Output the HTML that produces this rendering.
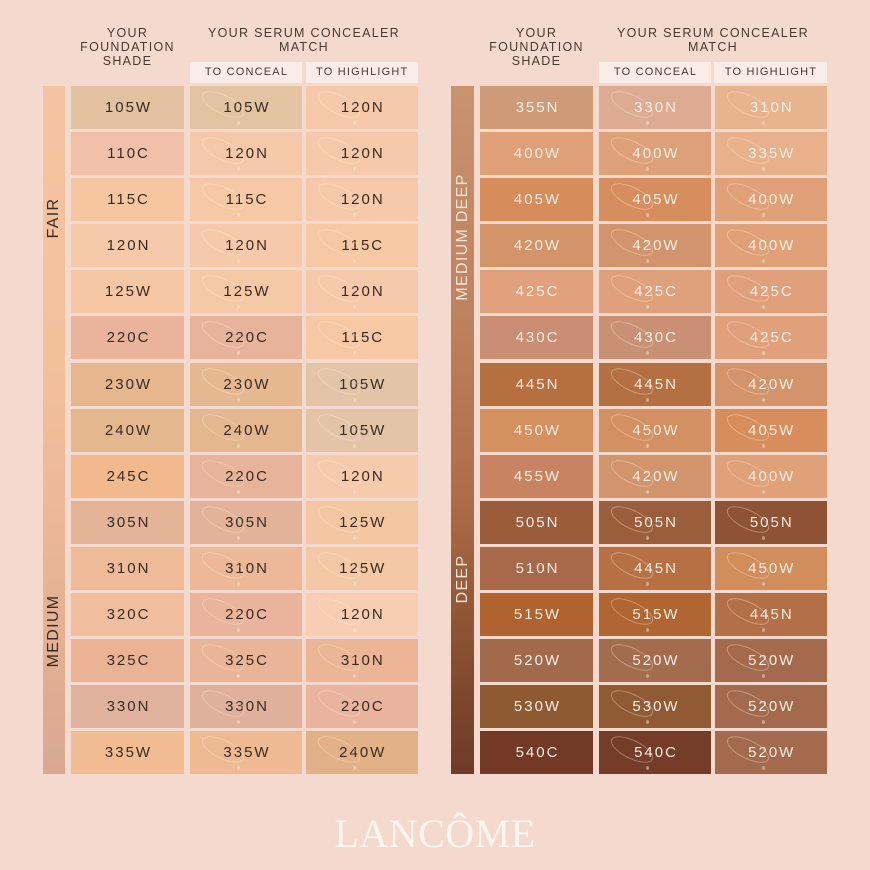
<!DOCTYPE html>
<html><head><meta charset="utf-8">
<style>
*{margin:0;padding:0;box-sizing:border-box}
html,body{width:870px;height:870px;overflow:hidden;background:#f4d9cf}
body{position:relative;font-family:"Liberation Sans",sans-serif}
.hdr{position:absolute;text-align:center;color:#4a3a33;font-size:12.5px;letter-spacing:1.3px;line-height:13.8px;top:27px}
.sub{position:absolute;top:62px;height:21px;background:#faece6;color:#4a3a33;font-size:11px;letter-spacing:1.2px;line-height:21px;text-align:center;padding-left:1px}
.bar{position:absolute;top:86px;height:688.4px;width:22.5px}
.lab{position:absolute;font-size:16px;letter-spacing:1.3px;white-space:nowrap;transform:translate(-50%,-50%) rotate(-90deg);line-height:16px}
.tbl{position:absolute;top:86px;display:flex;flex-direction:column;gap:3.1px}
.row{display:flex;height:43px}
.c{height:43px;line-height:43px;text-align:center;font-size:15px;letter-spacing:2px;padding-left:2px;position:relative;overflow:hidden}
.L .c{color:#3a2a21}
.R .c{color:#f9ede2}
.c1{width:113px}
.c2{width:112px;margin-left:6px}
.c3{width:112.5px;margin-left:3.5px}
.s::before{content:"";position:absolute;left:10px;top:9px;width:44px;height:17px;border:1px solid rgba(255,240,225,0.35);border-radius:50%;transform:rotate(26deg)}
.s::after{content:"";position:absolute;left:47px;top:35px;width:3px;height:4px;border-radius:50%;background:rgba(255,236,214,0.45)}
.logo{position:absolute;left:0;width:870px;top:812px;text-align:center;font-family:"Liberation Serif",serif;font-size:40px;color:#fdf5ee;letter-spacing:0.5px;line-height:44px}
</style></head><body>

<div class="hdr" style="left:71px;width:113px">YOUR<br>FOUNDATION<br>SHADE</div>
<div class="hdr" style="left:190px;width:228px">YOUR SERUM CONCEALER<br>MATCH</div>
<div class="sub" style="left:190px;width:112px">TO CONCEAL</div>
<div class="sub" style="left:305.5px;width:112.5px">TO HIGHLIGHT</div>

<div class="hdr" style="left:480px;width:113px">YOUR<br>FOUNDATION<br>SHADE</div>
<div class="hdr" style="left:599px;width:228px">YOUR SERUM CONCEALER<br>MATCH</div>
<div class="sub" style="left:599px;width:112px">TO CONCEAL</div>
<div class="sub" style="left:714px;width:113px">TO HIGHLIGHT</div>

<div class="bar" style="left:42.5px;background:linear-gradient(#f4c4a2,#f3c09c 40%,#e8b496 70%,#d9a891)"></div>
<div class="lab" style="left:54px;top:218px;color:#3a2a22">FAIR</div>
<div class="lab" style="left:54px;top:631px;color:#3a2a22">MEDIUM</div>

<div class="bar" style="left:451px;background:linear-gradient(#ca926f,#bf8460 30%,#ad6d48 60%,#8c5233 80%,#6d3b28)"></div>
<div class="lab" style="left:462.5px;top:237px;color:#f5e3d5">MEDIUM DEEP</div>
<div class="lab" style="left:462.5px;top:579px;color:#f5e3d5">DEEP</div>

<div class="tbl L" style="left:71px">
<div class="row"><div class="c c1" style="background:#e3c2a1">105W</div><div class="c c2 s" style="background:#e2c3a2">105W</div><div class="c c3 s" style="background:#f5c9aa">120N</div></div>
<div class="row"><div class="c c1" style="background:#f1c0a9">110C</div><div class="c c2 s" style="background:#f5c8a9">120N</div><div class="c c3 s" style="background:#f5c9aa">120N</div></div>
<div class="row"><div class="c c1" style="background:#f6c6a1">115C</div><div class="c c2 s" style="background:#f6c8a5">115C</div><div class="c c3 s" style="background:#f5c9aa">120N</div></div>
<div class="row"><div class="c c1" style="background:#f5c9aa">120N</div><div class="c c2 s" style="background:#f5c9a9">120N</div><div class="c c3 s" style="background:#f6c8a3">115C</div></div>
<div class="row"><div class="c c1" style="background:#f5c7a4">125W</div><div class="c c2 s" style="background:#f5c8a6">125W</div><div class="c c3 s" style="background:#f5c9aa">120N</div></div>
<div class="row"><div class="c c1" style="background:#e9b49b">220C</div><div class="c c2 s" style="background:#e8b39b">220C</div><div class="c c3 s" style="background:#f6c8a3">115C</div></div>
<div class="row"><div class="c c1" style="background:#e6b78f">230W</div><div class="c c2 s" style="background:#e6b891">230W</div><div class="c c3 s" style="background:#e3c4a6">105W</div></div>
<div class="row"><div class="c c1" style="background:#e5b78e">240W</div><div class="c c2 s" style="background:#e5b790">240W</div><div class="c c3 s" style="background:#e3c4a6">105W</div></div>
<div class="row"><div class="c c1" style="background:#f3b98e">245C</div><div class="c c2 s" style="background:#e8b39b">220C</div><div class="c c3 s" style="background:#f6caac">120N</div></div>
<div class="row"><div class="c c1" style="background:#e3b497">305N</div><div class="c c2 s" style="background:#e2b398">305N</div><div class="c c3 s" style="background:#f4c7a2">125W</div></div>
<div class="row"><div class="c c1" style="background:#efba97">310N</div><div class="c c2 s" style="background:#ecb898">310N</div><div class="c c3 s" style="background:#f4c8a4">125W</div></div>
<div class="row"><div class="c c1" style="background:#f0be9e">320C</div><div class="c c2 s" style="background:#e9b49b">220C</div><div class="c c3 s" style="background:#f7ceb1">120N</div></div>
<div class="row"><div class="c c1" style="background:#eab395">325C</div><div class="c c2 s" style="background:#e9b497">325C</div><div class="c c3 s" style="background:#ebb596">310N</div></div>
<div class="row"><div class="c c1" style="background:#e0b19c">330N</div><div class="c c2 s" style="background:#dfb09c">330N</div><div class="c c3 s" style="background:#e9b39d">220C</div></div>
<div class="row"><div class="c c1" style="background:#f2bc92">335W</div><div class="c c2 s" style="background:#efba93">335W</div><div class="c c3 s" style="background:#e2b187">240W</div></div>
</div>

<div class="tbl R" style="left:480px">
<div class="row"><div class="c c1" style="background:#cf9a78">355N</div><div class="c c2 s" style="background:#dcab92">330N</div><div class="c c3 s" style="background:#e8b38f">310N</div></div>
<div class="row"><div class="c c1" style="background:#e0a077">400W</div><div class="c c2 s" style="background:#dea079">400W</div><div class="c c3 s" style="background:#e8b18b">335W</div></div>
<div class="row"><div class="c c1" style="background:#d78c5b">405W</div><div class="c c2 s" style="background:#d78d5e">405W</div><div class="c c3 s" style="background:#e0a078">400W</div></div>
<div class="row"><div class="c c1" style="background:#d3946a">420W</div><div class="c c2 s" style="background:#d2946c">420W</div><div class="c c3 s" style="background:#e0a078">400W</div></div>
<div class="row"><div class="c c1" style="background:#e0a17c">425C</div><div class="c c2 s" style="background:#dfa07c">425C</div><div class="c c3 s" style="background:#e0a07c">425C</div></div>
<div class="row"><div class="c c1" style="background:#c98e73">430C</div><div class="c c2 s" style="background:#c99075">430C</div><div class="c c3 s" style="background:#e0a07c">425C</div></div>
<div class="row"><div class="c c1" style="background:#b66f3f">445N</div><div class="c c2 s" style="background:#b47042">445N</div><div class="c c3 s" style="background:#d3936b">420W</div></div>
<div class="row"><div class="c c1" style="background:#d4905f">450W</div><div class="c c2 s" style="background:#d39062">450W</div><div class="c c3 s" style="background:#d88d5c">405W</div></div>
<div class="row"><div class="c c1" style="background:#c88462">455W</div><div class="c c2 s" style="background:#d2946c">420W</div><div class="c c3 s" style="background:#e0a078">400W</div></div>
<div class="row"><div class="c c1" style="background:#9a5c3a">505N</div><div class="c c2 s" style="background:#9b5e3d">505N</div><div class="c c3 s" style="background:#8d5334">505N</div></div>
<div class="row"><div class="c c1" style="background:#a8694b">510N</div><div class="c c2 s" style="background:#b77043">445N</div><div class="c c3 s" style="background:#d18d5c">450W</div></div>
<div class="row"><div class="c c1" style="background:#b0632e">515W</div><div class="c c2 s" style="background:#b06631">515W</div><div class="c c3 s" style="background:#b37047">445N</div></div>
<div class="row"><div class="c c1" style="background:#a26a4d">520W</div><div class="c c2 s" style="background:#a46c4f">520W</div><div class="c c3 s" style="background:#a46a4d">520W</div></div>
<div class="row"><div class="c c1" style="background:#8e5a31">530W</div><div class="c c2 s" style="background:#905b34">530W</div><div class="c c3 s" style="background:#a46a4d">520W</div></div>
<div class="row"><div class="c c1" style="background:#723a24">540C</div><div class="c c2 s" style="background:#753c27">540C</div><div class="c c3 s" style="background:#a46a4d">520W</div></div>
</div>

<div class="logo">LANCÔME</div>
</body></html>
